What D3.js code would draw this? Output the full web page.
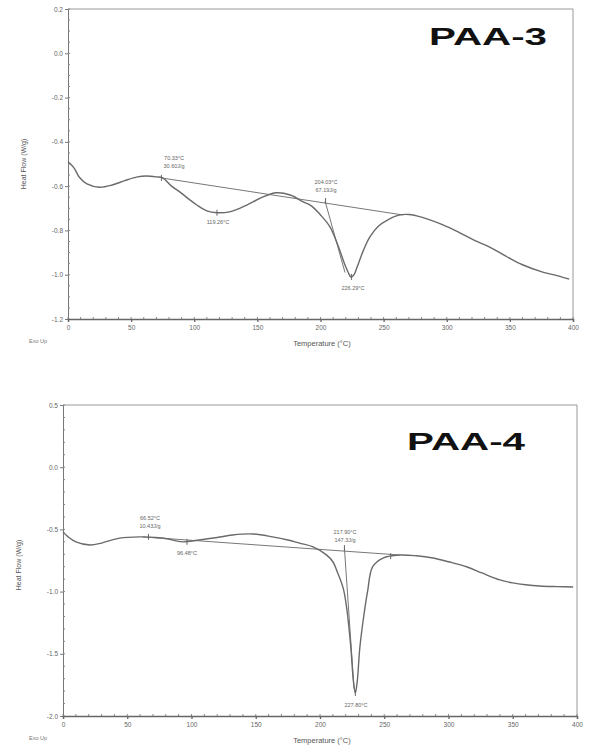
<!DOCTYPE html>
<html>
<head>
    <meta charset="UTF-8">
    <title>DSC PAA-3 / PAA-4</title>
    <script src="https://d3js.org/d3.v7.min.js"></script>
    <style>
        body { margin: 0; background: #fff; }
        text { font-family: "Liberation Sans", Arial, sans-serif; }
    </style>
</head>
<body>
<div id="chart"></div>
<script>
    // PAA-3 curve (temperature in C, heat flow in W/g)
    var temps3 = [0, 2, 5, 9, 15, 25, 35, 45, 55, 62, 70, 75, 82, 89, 96, 102, 110, 118, 128, 136, 142,
                  154, 165, 176, 186, 193, 200, 207.5, 214, 219, 222, 224, 226.5, 229, 234, 239, 246,
                  253, 263, 270, 280, 297, 310, 322, 334, 348, 360, 376, 388, 397];
    var flow3 = [-0.49, -0.50, -0.52, -0.56, -0.59, -0.605, -0.595, -0.575, -0.558, -0.554, -0.558, -0.563,
                 -0.60, -0.628, -0.66, -0.685, -0.712, -0.72, -0.716, -0.70, -0.685,
                 -0.65, -0.63, -0.64, -0.67, -0.69, -0.73, -0.784, -0.87, -0.95, -0.99, -1.01, -1.0, -0.965,
                 -0.89, -0.83, -0.78, -0.753, -0.73, -0.728, -0.74, -0.775, -0.81, -0.845, -0.875,
                 -0.92, -0.955, -0.988, -1.005, -1.02];

    // PAA-4 curve
    var temps4 = [0, 4, 10, 21, 30, 44, 60, 72, 81, 93, 106, 120, 132, 148, 163, 175, 184, 194.6, 205, 210,
                  213, 218, 221, 224, 226, 227.5, 229, 231, 234, 237, 241, 249, 262, 275, 288, 300, 314,
                  326, 340, 350, 360, 371, 385, 397];
    var flow4 = [-0.52, -0.56, -0.60, -0.625, -0.61, -0.57, -0.56, -0.565, -0.575, -0.60, -0.585, -0.565,
                 -0.545, -0.537, -0.56, -0.585, -0.61, -0.64, -0.705, -0.76,
                 -0.83, -0.97, -1.15, -1.45, -1.72, -1.815, -1.72, -1.45, -1.2, -1.0, -0.80, -0.73, -0.706,
                 -0.712, -0.73, -0.76, -0.80, -0.85, -0.906, -0.93, -0.945, -0.955, -0.96, -0.963];

    // analysis lines (baseline + onset tangent)
    var base3T = [74, 265], base3F = [-0.563, -0.73];
    var tan3T = [203.6, 219.4], tan3F = [-0.667, -0.99];
    var base4T = [62, 262], base4F = [-0.56, -0.706];
    var tan4T = [219, 226.5], tan4F = [-0.65, -1.78];

    // axis ticks
    var xTicks = [0, 50, 100, 150, 200, 250, 300, 350, 400];
    var yTicks3 = [0.2, 0.0, -0.2, -0.4, -0.6, -0.8, -1.0, -1.2];
    var yTicks4 = [0.5, 0.0, -0.5, -1.0, -1.5, -2.0];

    // peak annotations: label anchor (data units) and text lines
    var ann3T = [84, 118.8, 204.4, 225.7];
    var ann3F = [-0.482, -0.77, -0.59, -1.07];
    var ann3Text = [["70.33°C", "30.60J/g"], ["119.26°C"], ["204.03°C", "67.19J/g"], ["226.29°C"]];
    var ann4T = [67.7, 96.5, 219.5, 228];
    var ann4F = [-0.424, -0.706, -0.537, -1.93];
    var ann4Text = [["66.52°C", "10.43J/g"], ["96.48°C"], ["217.90°C", "147.3J/g"], ["227.80°C"]];

    // marker points on the curve (small ticks)
    var mark3T = [74, 118, 204, 224.5], mark3F = [-0.563, -0.72, -0.667, -1.01];
    var mark4T = [66.5, 96.5, 219, 227.5, 255], mark4F = [-0.56, -0.60, -0.65, -1.815, -0.715];

    var svg = d3.select("#chart").append("svg")
        .attr("width", 590)
        .attr("height", 755);

    svg.append("rect").attr("width", 590).attr("height", 755).attr("fill", "#fff");

    // draws one DSC panel
    function drawPanel(opt) {
        var x = d3.scaleLinear().domain([0, 400]).range([opt.left, opt.right]);
        var y = d3.scaleLinear().domain([opt.yMin, opt.yMax]).range([opt.bottom, opt.top]);
        var g = svg.append("g");

        // frame top + right
        g.append("path")
            .attr("d", "M" + opt.left + "," + opt.top + "H" + opt.right + "V" + opt.bottom)
            .attr("fill", "none").attr("stroke", "#999").attr("stroke-width", 1);

        // y axis
        var yAxis = d3.axisLeft(y).tickValues(opt.yTicks).tickSize(3).tickPadding(2)
            .tickFormat(function(d) { return d.toFixed(1); });
        var ga = g.append("g").attr("transform", "translate(" + opt.left + ",0)").call(yAxis);
        ga.selectAll("text").attr("font-size", 6.5).attr("fill", "#666");
        ga.selectAll("line, path").attr("stroke", "#777");

        // y minor ticks
        g.append("g").selectAll("line")
            .data(d3.range(opt.yMin, opt.yMax + 1e-9, opt.yMinor))
            .enter().append("line")
            .attr("x1", opt.left).attr("x2", opt.left + 2)
            .attr("y1", function(d) { return y(d); })
            .attr("y2", function(d) { return y(d); })
            .attr("stroke", "#888");

        // x axis
        var xAxis = d3.axisBottom(x).tickValues(xTicks).tickSize(3).tickPadding(3);
        var gb = g.append("g").attr("transform", "translate(0," + opt.bottom + ")").call(xAxis);
        gb.selectAll("text").attr("font-size", 6.5).attr("fill", "#666");
        gb.selectAll("line, path").attr("stroke", "#666").attr("stroke-width", 1.3);

        g.append("g").selectAll("line")
            .data(d3.range(0, 401, 10))
            .enter().append("line")
            .attr("x1", function(d) { return x(d); })
            .attr("x2", function(d) { return x(d); })
            .attr("y1", opt.bottom).attr("y2", opt.bottom - 2)
            .attr("stroke", "#888");

        // axis titles
        g.append("text")
            .attr("transform", "translate(" + opt.yTitleX + "," + opt.yTitleY + ") rotate(-90)")
            .attr("text-anchor", "middle").attr("font-size", 7).attr("fill", "#555")
            .text("Heat Flow (W/g)");
        g.append("text")
            .attr("x", 322).attr("y", opt.bottom + 27)
            .attr("text-anchor", "middle").attr("font-size", 7.5).attr("fill", "#555")
            .text("Temperature (°C)");
        g.append("text")
            .attr("x", 29).attr("y", opt.bottom + 24)
            .attr("font-size", 5.5).attr("fill", "#777")
            .text("Exo Up");

        // analysis lines
        var straight = d3.line().x(function(d) { return x(d[0]); }).y(function(d) { return y(d[1]); });
        [[opt.baseT, opt.baseF], [opt.tanT, opt.tanF]].forEach(function(l) {
            g.append("path")
                .attr("d", straight(d3.zip(l[0], l[1])))
                .attr("fill", "none").attr("stroke", "#777").attr("stroke-width", 1);
        });

        // DSC curve
        var line = d3.line()
            .x(function(d) { return x(d[0]); })
            .y(function(d) { return y(d[1]); })
            .curve(d3.curveCatmullRom.alpha(0.5));
        g.append("path")
            .attr("d", line(d3.zip(opt.temps, opt.flow)))
            .attr("fill", "none").attr("stroke", "#6a6a6a").attr("stroke-width", 1.4);

        // small marker ticks
        g.append("g").selectAll("line")
            .data(d3.zip(opt.markT, opt.markF))
            .enter().append("line")
            .attr("x1", function(d) { return x(d[0]); })
            .attr("x2", function(d) { return x(d[0]); })
            .attr("y1", function(d) { return y(d[1]) - 3; })
            .attr("y2", function(d) { return y(d[1]) + 3; })
            .attr("stroke", "#666").attr("stroke-width", 1);

        // annotations
        opt.annT.forEach(function(t, i) {
            var tx = g.append("text")
                .attr("x", x(t)).attr("y", y(opt.annF[i]))
                .attr("text-anchor", "middle").attr("font-size", 5.5).attr("fill", "#666");
            opt.annText[i].forEach(function(s, j) {
                tx.append("tspan").attr("x", x(t)).attr("dy", j == 0 ? 0 : 8).text(s);
            });
        });

        // sample title
        g.append("text")
            .attr("x", opt.titleX).attr("y", opt.titleY)
            .attr("font-size", 24).attr("font-weight", "bold").attr("fill", "#111")
            .attr("textLength", 118).attr("lengthAdjust", "spacingAndGlyphs")
            .text(opt.title);
    }

    drawPanel({
        left: 68, right: 573, top: 9, bottom: 319,
        yMin: -1.2, yMax: 0.2, yTicks: yTicks3, yMinor: 0.05,
        temps: temps3, flow: flow3,
        baseT: base3T, baseF: base3F, tanT: tan3T, tanF: tan3F,
        markT: mark3T, markF: mark3F,
        annT: ann3T, annF: ann3F, annText: ann3Text,
        yTitleX: 26, yTitleY: 164,
        title: "PAA-3", titleX: 429, titleY: 45
    });

    drawPanel({
        left: 63, right: 577, top: 405, bottom: 716,
        yMin: -2.0, yMax: 0.5, yTicks: yTicks4, yMinor: 0.1,
        temps: temps4, flow: flow4,
        baseT: base4T, baseF: base4F, tanT: tan4T, tanF: tan4F,
        markT: mark4T, markF: mark4F,
        annT: ann4T, annF: ann4F, annText: ann4Text,
        yTitleX: 21, yTitleY: 565,
        title: "PAA-4", titleX: 407, titleY: 450
    });
</script>
</body>
</html>
